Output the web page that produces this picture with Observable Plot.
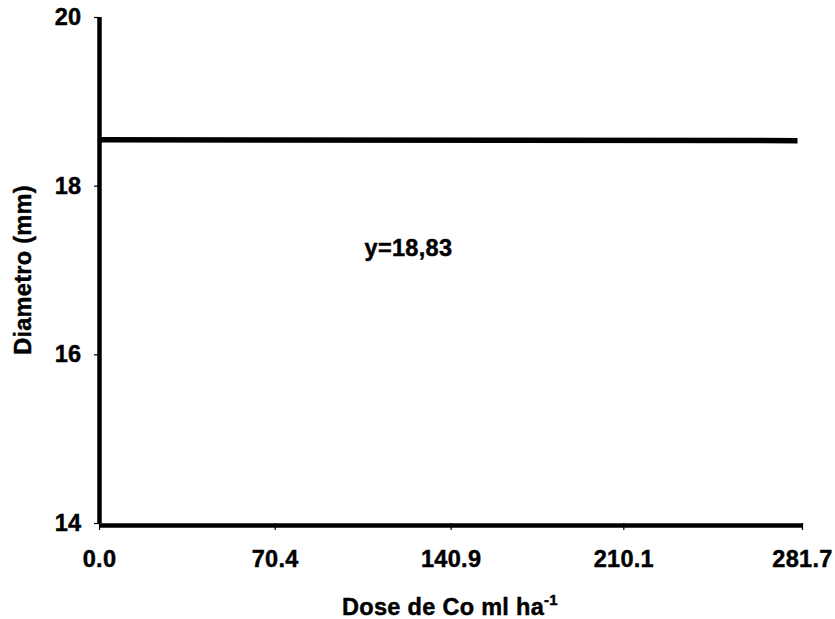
<!DOCTYPE html>
<html>
<head>
<meta charset="utf-8">
<script src="https://cdn.jsdelivr.net/npm/d3@7"></script>
<script src="https://cdn.jsdelivr.net/npm/@observablehq/plot@0.6"></script>
<style>
  html, body { margin: 0; padding: 0; background: #fff; }
  svg { display: block; }
  svg text { stroke: #000; stroke-width: 0.45px; }
</style>
</head>
<body>
<div id="chart"></div>
<script>
const xTicks = [0.0, 70.4, 140.9, 210.1, 281.7];
const yTicks = [14, 16, 18, 20];
const doseX = [0.0, 279.7];
const diamY = [18.55, 18.54];
const eqLabel = ["y=18,83"];
const eqPos = [[123.8, 17.26]];

const lineData = doseX.map((x, i) => ({x, y: diamY[i]}));
const font = "Liberation Sans, Arial, Helvetica, sans-serif";
const fs = 23.5;

const chart = Plot.plot({
  width: 835,
  height: 619,
  marginLeft: 99,
  marginRight: 33,
  marginTop: 17,
  marginBottom: 96,
  style: { fontFamily: font, fontWeight: "bold", color: "#000", background: "#fff" },
  x: { domain: [0, 281.7] },
  y: { domain: [14, 20] },
  marks: [
    Plot.axisY({ ticks: yTicks, tickSize: 5, tickPadding: 13, fontSize: fs, tickFormat: d => String(d), label: null, strokeWidth: 1.2 }),
    Plot.axisX({ ticks: xTicks, tickSize: 7, tickPadding: 20, fontSize: fs, tickFormat: d => d.toFixed(1), label: null, strokeWidth: 1.2 }),
    Plot.ruleX([0], { stroke: "#000", strokeWidth: 4.5 }),
    Plot.ruleY([14], { stroke: "#000", strokeWidth: 4.5, dy: 2 }),
    Plot.line(lineData, { x: "x", y: "y", stroke: "#000", strokeWidth: 5.5, strokeLinecap: "butt" }),
    Plot.text(eqLabel, { x: () => eqPos[0][0], y: () => eqPos[0][1], text: d => d, fontSize: fs, fontWeight: "bold", fill: "#000" })
  ]
});

const svg = d3.select(chart);
svg.selectAll('g[aria-label$="tick label"]').attr("font-size", fs).style("font-size", fs + "px");
svg.selectAll("text").attr("letter-spacing", 0.3);
// x-axis title with superscript
const xt = svg.append("text")
  .attr("x", 450).attr("y", 615)
  .attr("text-anchor", "middle")
  .attr("font-family", font).attr("font-weight", "bold").attr("font-size", fs)
  .attr("letter-spacing", 0.3)
  .attr("fill", "#000");
xt.append("tspan").text("Dose de Co ml ha");
xt.append("tspan").attr("dy", -10).attr("font-size", 15).text("-1");

// y-axis title
svg.append("text")
  .attr("transform", "translate(31,270) rotate(-90)")
  .attr("text-anchor", "middle")
  .attr("font-family", font).attr("font-weight", "bold").attr("font-size", fs)
  .attr("letter-spacing", 0.3)
  .attr("fill", "#000")
  .text("Diametro (mm)");

document.getElementById("chart").appendChild(chart);
</script>
</body>
</html>
